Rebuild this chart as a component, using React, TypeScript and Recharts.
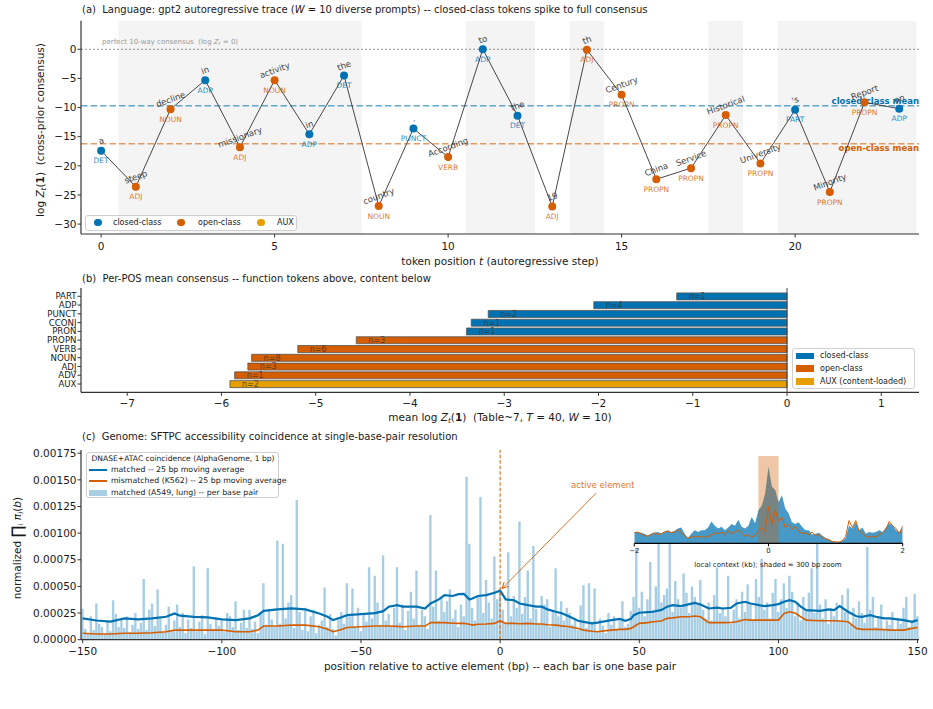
import React from 'react'
import {
  ComposedChart,
  BarChart,
  LineChart,
  Line,
  Bar,
  Area,
  XAxis,
  YAxis,
  ReferenceLine,
  ReferenceArea,
  LabelList,
  Cell,
} from 'recharts'

// ---------- panel (a): gpt2 autoregressive trace ----------
const TOKENS = ['a', 'steep', 'decline', 'in', 'missionary', 'activity', 'in', 'the', 'country', '.', 'According', 'to', 'the', '19', 'th', 'Century', 'China', 'Service', 'Historical', 'University', "'s", 'Minority', 'Report', 'on']
const TOKEN_POS = ['DET', 'ADJ', 'NOUN', 'ADP', 'ADJ', 'NOUN', 'ADP', 'DET', 'NOUN', 'PUNCT', 'VERB', 'ADP', 'DET', 'ADJ', 'ADJ', 'PROPN', 'PROPN', 'PROPN', 'PROPN', 'PROPN', 'PART', 'PROPN', 'PROPN', 'ADP']
const TOKEN_LOGZ = [-17.4, -23.6, -10.3, -5.3, -16.8, -5.3, -14.6, -4.5, -26.9, -13.6, -18.5, 0, -11.4, -27.0, -0.1, -7.8, -22.3, -20.4, -11.3, -19.6, -10.4, -24.5, -9.1, -10.2]
const CLOSED_POS = ['DET', 'ADP', 'PUNCT', 'PART', 'PRON', 'CCONJ']
const PROMPT_SPANS = [[0.5, 7.5], [10.5, 12.5], [13.5, 14.5], [17.5, 18.5], [19.5, 23.5]]
const CLOSED_MEAN = -9.7
const OPEN_MEAN = -16.2
const A_TICKS_X = [0, 5, 10, 15, 20]
const A_TICKS_Y = [-30, -25, -20, -15, -10, -5, 0]

// ---------- panel (b): per-POS mean ----------
const POS_ROWS = ['PART', 'ADP', 'PUNCT', 'CCONJ', 'PRON', 'PROPN', 'VERB', 'NOUN', 'ADJ', 'ADV', 'AUX']
const POS_MEAN = [-1.17, -2.05, -3.17, -3.35, -3.4, -4.57, -5.19, -5.68, -5.72, -5.86, -5.91]
const POS_COUNT = [1, 4, 2, 1, 1, 3, 6, 8, 3, 1, 2]
const B_TICKS_X = [-7, -6, -5, -4, -3, -2, -1, 0, 1]

// ---------- panel (c): SFTPC per-bp coincidence (units of 1e-5) ----------
const BP_START = -150
const MATCHED_BP = [
  29, 10, 6, 22, 9, 34, 15, 12, 5, 18,
  8, 37, 24, 12, 20, 11, 22, 7, 14, 25,
  10, 16, 57, 9, 28, 34, 13, 47, 20, 7,
  14, 31, 9, 18, 33, 12, 25, 6, 19, 11,
  69, 8, 17, 23, 5, 67, 15, 10, 21, 13,
  18, 7, 25, 22, 12, 36, 9, 16, 28, 11,
  28, 10, 17, 6, 24, 53, 14, 29, 19, 12,
  93, 15, 90, 20, 35, 42, 11, 131, 26, 9,
  30, 8, 22, 28, 6, 14, 18, 49, 12, 24,
  10, 4, 19, 26, 15, 53, 22, 48, 12, 30,
  8, 25, 17, 68, 20, 60, 35, 14, 79, 18,
  24, 12, 30, 68, 16, 33, 9, 27, 45, 20,
  65, 14, 28, 22, 10, 117, 31, 65, 18, 40,
  26, 36, 47, 20, 28, 12, 33, 22, 153, 90,
  30, 18, 42, 134, 25, 56, 35, 20, 78, 38,
  45, 28, 16, 82, 22, 41, 30, 111, 24, 40,
  65, 20, 88, 29, 15, 41, 33, 38, 12, 26,
  67, 22, 36, 18, 30, 25, 14, 20, 9, 32,
  51, 11, 53, 17, 48, 8, 20, 13, 6, 25,
  14, 22, 9, 18, 36, 12, 15, 27, 40, 86,
  30, 45, 22, 38, 73, 28, 50, 100, 35, 42,
  48, 134, 26, 55, 38, 30, 62, 44, 25, 50,
  40, 33, 56, 28, 20, 35, 18, 42, 68, 25,
  30, 22, 60, 15, 28, 38, 20, 45, 26, 52,
  33, 18, 57, 40, 76, 28, 35, 20, 44, 57,
  26, 38, 53, 30, 60, 45, 22, 35, 18, 40,
  28, 44, 67, 25, 120, 33, 20, 38, 15, 30,
  22, 35, 18, 42, 26, 48, 14, 30, 20, 36,
  25, 16, 87, 28, 40, 12, 22, 33, 10, 18,
  14, 26, 9, 20, 15, 30, 40, 12, 18, 43,
  22,
]
const AVG_BP = [-150, -145, -140, -135, -130, -125, -120, -117, -115, -110, -105, -100, -95, -90, -87, -85, -80, -75, -70, -65, -62, -60, -57, -55, -50, -45, -42, -40, -37, -35, -30, -27, -25, -22, -20, -17, -15, -13, -11, -10, -8, -5, -2, 0, 2, 5, 7, 10, 13, 15, 17, 20, 22, 25, 28, 30, 33, 35, 38, 40, 43, 45, 47, 48, 50, 53, 55, 58, 60, 62, 65, 68, 70, 72, 75, 78, 80, 83, 85, 88, 90, 93, 95, 98, 100, 102, 104, 106, 108, 110, 115, 118, 120, 122, 125, 128, 130, 133, 135, 138, 140, 145, 148, 150]
const MATCHED_AVG = [
  20, 18, 17, 20, 19, 20, 21.5, 24.6, 22.5, 21.5,
  21, 19, 18.4, 20, 23, 27, 28.4, 29.3, 28.4, 24.6,
  21.5, 18.4, 21, 23, 24, 25, 26.8, 31, 32.4, 31,
  31, 29.3, 34, 37.8, 41.8, 41, 42.7, 43, 37.8, 38.7,
  41, 41.8, 44, 46, 37.8, 37, 34, 32.4, 31, 31,
  28.4, 26.2, 25, 21.5, 17.8, 16.8, 15.3, 16, 17.5, 18.4,
  19.5, 17.8, 19.5, 23, 25.3, 25.8, 26.2, 28, 31, 32.4,
  31.5, 33.4, 34.6, 33, 29.3, 30, 29.3, 30, 34, 35.6,
  34, 32.5, 31.5, 32.5, 33.4, 35.6, 37.1, 35.6, 31, 27.8,
  27.1, 28.4, 27.8, 31.5, 26.2, 22, 21.5, 23, 21.5, 20,
  20, 18.4, 16.8, 18.4,
]
const MISMATCHED_AVG = [
  6, 5.3, 5.3, 6, 6, 6.5, 7.5, 9, 9, 9,
  9, 9, 7.5, 7.5, 9, 12.8, 12.8, 13.7, 13.7, 12.2,
  9.7, 7.5, 9.5, 11.5, 12.2, 12.8, 12.8, 12.8, 12.5, 12.2,
  12.8, 12.8, 16, 16, 16, 15.5, 15.3, 15.3, 14.5, 13.7,
  14.5, 14.7, 15.3, 17.8, 15.3, 15.3, 15, 15.3, 14.7, 14.7,
  14, 13.7, 13, 12.2, 10.6, 9, 8, 7.5, 8.5, 9,
  9.7, 9.7, 10.6, 12.2, 15.3, 16, 16.8, 17.5, 20, 20.5,
  21.5, 21.5, 22.2, 21.5, 16, 16, 16, 16.2, 16.8, 19,
  18.4, 18.4, 18.4, 18.4, 18.4, 24.6, 26.2, 25, 21.5, 18.4,
  17.8, 17.8, 17.8, 17.5, 16.8, 10.6, 9.7, 9.7, 9.7, 9.5,
  9, 9, 10.6, 11.5,
]
const UNIT = 1e-5
const C_TICKS_X = [-150, -100, -50, 0, 50, 100, 150]
const C_TICKS_Y = [0, 0.00025, 0.0005, 0.00075, 0.001, 0.00125, 0.0015, 0.00175]

// inset: +-2 kb local context, sampled every 50 bp (relative units)
const INSET_STEP_KB = 0.05
const INSET_MATCHED = [
  0.13, 0.13, 0.12, 0.11, 0.09, 0.11, 0.12, 0.13, 0.11, 0.13,
  0.15, 0.13, 0.14, 0.17, 0.18, 0.11, 0.06, 0.11, 0.15, 0.13,
  0.15, 0.15, 0.18, 0.25, 0.2, 0.17, 0.19, 0.15, 0.18, 0.22,
  0.2, 0.27, 0.19, 0.17, 0.2, 0.3, 0.23, 0.38, 0.43, 0.57,
  0.88, 0.65, 0.61, 0.47, 0.55, 0.4, 0.34, 0.24, 0.22, 0.24,
  0.19, 0.15, 0.15, 0.1, 0.11, 0.12, 0.09, 0.06, 0.05, 0.02,
  0.01, 0.02, 0.03, 0.06, 0.2, 0.17, 0.24, 0.15, 0.18, 0.11,
  0.13, 0.12, 0.13, 0.15, 0.13, 0.18, 0.23, 0.2, 0.15, 0.13,
  0.18,
]
const INSET_MISMATCHED = [
  0.12, 0.13, 0.11, 0.09, 0.08, 0.1, 0.12, 0.1, 0.11, 0.13,
  0.14, 0.12, 0.13, 0.16, 0.12, 0.09, 0.06, 0.07, 0.08, 0.07,
  0.08, 0.07, 0.08, 0.09, 0.12, 0.11, 0.13, 0.1, 0.14, 0.11,
  0.13, 0.15, 0.12, 0.08, 0.1, 0.07, 0.09, 0.14, 0.18, 0.13,
  0.42, 0.22, 0.38, 0.25, 0.3, 0.18, 0.22, 0.16, 0.19, 0.14,
  0.11, 0.12, 0.1, 0.13, 0.09, 0.1, 0.07, 0.05, 0.04, 0.02,
  0.02, 0.01, 0.03, 0.08, 0.26, 0.18, 0.26, 0.14, 0.12, 0.08,
  0.07, 0.08, 0.07, 0.1, 0.12, 0.16, 0.25, 0.2, 0.17, 0.11,
  0.2,
]
const ZOOM_WINDOW_KB = [-0.15, 0.15]

const FONT = '"DejaVu Sans", Verdana, sans-serif'
const INK = '#1a1a1a'
const SPINE = '#333'
const BLUE = '#0072B2'
const ORANGE = '#D55E00'
const GOLD = '#E69F00'
const BAR_BLUE = '#a8cee4'

const minus = (v: number) => (v < 0 ? `\u2212${Math.abs(v)}` : `${v}`)
const classOf = (pos: string) => (CLOSED_POS.includes(pos) ? 'closed' : pos === 'AUX' ? 'aux' : 'open')
const colorOf = (cls: string) => (cls === 'closed' ? BLUE : cls === 'aux' ? GOLD : ORANGE)

const tokenData = TOKENS.map((word, t) => ({ t, word, pos: TOKEN_POS[t], logz: TOKEN_LOGZ[t], cls: classOf(TOKEN_POS[t]) }))
const posData = POS_ROWS.map((pos, i) => ({ pos, mean: POS_MEAN[i], label: `n=${POS_COUNT[i]}`, cls: classOf(pos) }))
const barData = MATCHED_BP.map((v, i) => ({ bp: BP_START + i, v: v * UNIT }))
const avgData = AVG_BP.map((bp, i) => ({ bp, matched: MATCHED_AVG[i] * UNIT, mismatched: MISMATCHED_AVG[i] * UNIT }))
const insetData = INSET_MATCHED.map((m, i) => ({ kb: -2 + i * INSET_STEP_KB, matched: m, mismatched: INSET_MISMATCHED[i] }))

const SUB: React.CSSProperties = { fontSize: '0.7em', verticalAlign: '-0.25em' }
const tickStyle = { fontSize: 10.5, fill: INK, fontFamily: FONT }

function Txt({ x, y, size = 10, anchor = 'start', rotate = false, color = INK, bold = false, children }: any) {
  const tx = anchor === 'middle' ? '-50%' : anchor === 'end' ? '-100%' : '0'
  return (
    <div
      style={{
        position: 'absolute',
        left: x,
        top: y,
        transform: rotate ? 'translate(-50%,-50%) rotate(-90deg)' : `translate(${tx},-50%)`,
        fontSize: size,
        lineHeight: 1,
        whiteSpace: 'pre',
        color,
        fontWeight: bold ? 'bold' : 'normal',
      }}
    >
      {children}
    </div>
  )
}

function TokenDot(props: any) {
  const { cx, cy, payload } = props
  if (cx == null || cy == null) return null
  const c = colorOf(payload.cls)
  return (
    <g>
      <circle cx={cx} cy={cy} r={4} fill={c} />
      <text transform={`translate(${cx},${cy - 10}) rotate(-20)`} textAnchor="middle" dy="0.35em" fontSize={8.5} fill="#444" fontFamily={FONT}>
        {payload.word}
      </text>
      <text x={cx} y={cy + 10} dy="0.35em" textAnchor="middle" fontSize={7.5} fill={c} fillOpacity={0.85} fontFamily={FONT}>
        {payload.pos}
      </text>
    </g>
  )
}

function PanelA() {
  return (
    <LineChart width={933} height={270} data={tokenData} margin={{ top: 20.7, right: 14, bottom: 6, left: 41 }}>
      {PROMPT_SPANS.map(([a, b]) => (
        <ReferenceArea key={a} x1={a} x2={b} fill="#000" fillOpacity={0.045} stroke="none" ifOverflow="visible" />
      ))}
      <XAxis
        type="number"
        dataKey="t"
        domain={[-0.58, 23.57]}
        allowDataOverflow
        ticks={A_TICKS_X}
        height={30}
        tick={tickStyle}
        tickSize={3.5}
        tickMargin={5}
        tickLine={{ stroke: SPINE }}
        axisLine={{ stroke: SPINE, strokeWidth: 1.2 }}
      />
      <YAxis
        type="number"
        domain={[-31.7, 4.9]}
        allowDataOverflow
        ticks={A_TICKS_Y}
        width={40}
        tickFormatter={minus}
        tick={tickStyle}
        tickSize={3.5}
        tickMargin={1}
        tickLine={{ stroke: SPINE }}
        axisLine={{ stroke: SPINE, strokeWidth: 1.2 }}
      />
      <ReferenceLine
        y={0}
        stroke="#777"
        strokeWidth={0.8}
        strokeDasharray="2 2"
        label={(p: any) => (
          <text x={p.viewBox.x + 21} y={p.viewBox.y - 8} dy="0.35em" fontSize={7} fill="#999" fontFamily={FONT} style={{ whiteSpace: 'pre' }}>
            <tspan>{'perfect 10-way consensus  (log '}</tspan>
            <tspan fontStyle="italic">Z</tspan>
            <tspan fontStyle="italic" fontSize={5} dy={1.5}>t</tspan>
            <tspan dy={-1.5}>{' = 0)'}</tspan>
          </text>
        )}
      />
      <ReferenceLine
        y={CLOSED_MEAN}
        stroke={BLUE}
        strokeOpacity={0.6}
        strokeWidth={1.5}
        strokeDasharray="6.5 3"
        label={(p: any) => (
          <text x={p.viewBox.x + p.viewBox.width} y={p.viewBox.y - 1.5} textAnchor="end" fontSize={8.5} fontWeight="bold" fill={BLUE} fontFamily={FONT}>
            closed-class mean
          </text>
        )}
      />
      <ReferenceLine
        y={OPEN_MEAN}
        stroke={ORANGE}
        strokeOpacity={0.6}
        strokeWidth={1.5}
        strokeDasharray="6.5 3"
        label={(p: any) => (
          <text x={p.viewBox.x + p.viewBox.width} y={p.viewBox.y + 7.5} textAnchor="end" fontSize={8.5} fontWeight="bold" fill={ORANGE} fontFamily={FONT}>
            open-class mean
          </text>
        )}
      />
      <Line
        type="linear"
        dataKey="logz"
        stroke="#333"
        strokeWidth={0.9}
        dot={(p: any) => <TokenDot key={`tok-${p.index}`} {...p} />}
        activeDot={false}
        isAnimationActive={false}
      />
    </LineChart>
  )
}

function PanelB() {
  return (
    <BarChart layout="vertical" width={933} height={160} data={posData} margin={{ top: 18, right: 14, bottom: 7.7, left: 31 }}>
      <XAxis
        type="number"
        domain={[-7.49, 1.4]}
        allowDataOverflow
        ticks={B_TICKS_X}
        height={30}
        tickFormatter={minus}
        tick={tickStyle}
        tickSize={3.5}
        tickMargin={4}
        tickLine={{ stroke: SPINE }}
        axisLine={{ stroke: SPINE, strokeWidth: 1.2 }}
      />
      <YAxis
        type="category"
        dataKey="pos"
        width={50}
        padding={{ top: 3.9, bottom: 3.9 }}
        interval={0}
        tick={{ fontSize: 8.6, fill: INK, fontFamily: FONT }}
        tickSize={3.5}
        tickMargin={1}
        tickLine={{ stroke: SPINE }}
        axisLine={{ stroke: SPINE, strokeWidth: 1.2 }}
      />
      <ReferenceLine x={0} stroke="#444" strokeWidth={1} />
      <Bar dataKey="mean" barSize={7} stroke="#555" strokeWidth={0.8} isAnimationActive={false}>
        {posData.map((d) => (
          <Cell key={d.pos} fill={colorOf(d.cls)} />
        ))}
        <LabelList
          dataKey="label"
          content={(p: any) => {
            const vb = p.viewBox ?? p
            const left = Math.min(vb.x, vb.x + vb.width)
            return (
              <text x={left + 12} y={vb.y + vb.height / 2} dy="0.35em" fontSize={8} fill="#333" fillOpacity={0.8} fontFamily={FONT}>
                {p.value}
              </text>
            )
          }}
        />
      </Bar>
    </BarChart>
  )
}

function PanelC() {
  return (
    <ComposedChart width={933} height={279} data={barData} margin={{ top: 20, right: 14, bottom: 39.3, left: 21 }}>
      <defs>
        <marker id="arrowHead" markerWidth="8" markerHeight="8" refX="7" refY="4" orient="auto" markerUnits="userSpaceOnUse">
          <path d="M1,1 L7,4 L1,7" fill="none" stroke={ORANGE} strokeWidth={1} />
        </marker>
      </defs>
      <XAxis
        type="number"
        dataKey="bp"
        domain={[-150.6, 150.5]}
        allowDataOverflow
        ticks={C_TICKS_X}
        height={30}
        tickFormatter={minus}
        tick={tickStyle}
        tickSize={3.5}
        tickMargin={4.3}
        tickLine={{ stroke: SPINE }}
        axisLine={{ stroke: SPINE, strokeWidth: 1.2 }}
      />
      <YAxis
        type="number"
        domain={[0, 0.00178]}
        allowDataOverflow
        ticks={C_TICKS_Y}
        width={60}
        tickFormatter={(v: number) => v.toFixed(5)}
        tick={tickStyle}
        tickSize={3.5}
        tickMargin={1}
        tickLine={{ stroke: SPINE }}
        axisLine={{ stroke: SPINE, strokeWidth: 1.2 }}
      />
      <Bar dataKey="v" fill={BAR_BLUE} barSize={2.4} isAnimationActive={false} />
      <Line data={avgData} type="linear" dataKey="mismatched" stroke={ORANGE} strokeWidth={1.6} dot={false} activeDot={false} isAnimationActive={false} />
      <Line data={avgData} type="linear" dataKey="matched" stroke={BLUE} strokeWidth={2.2} dot={false} activeDot={false} isAnimationActive={false} />
      <ReferenceLine x={0} stroke={ORANGE} strokeOpacity={0.85} strokeWidth={1.2} strokeDasharray="3.5 2" />
      <ReferenceLine
        segment={[
          { x: 34.5, y: 0.001376 },
          { x: 0.7, y: 0.00048 },
        ]}
        ifOverflow="visible"
        shape={(p: any) => (
          <line x1={p.x1} y1={p.y1} x2={p.x2} y2={p.y2} stroke={ORANGE} strokeOpacity={0.85} strokeWidth={1} markerEnd="url(#arrowHead)" />
        )}
      />
    </ComposedChart>
  )
}

function Inset() {
  return (
    <ComposedChart width={300} height={120} data={insetData} margin={{ top: 6, right: 17.3, bottom: 6.7, left: 14.3 }}>
      <XAxis
        type="number"
        dataKey="kb"
        domain={[-2, 2]}
        allowDataOverflow
        ticks={[-2, 0, 2]}
        height={20}
        tickFormatter={minus}
        tick={{ fontSize: 7, fill: INK, fontFamily: FONT }}
        tickSize={3}
        tickMargin={1.5}
        tickLine={{ stroke: '#000' }}
        axisLine={{ stroke: '#000', strokeWidth: 1.2 }}
      />
      <YAxis type="number" domain={[0, 1]} allowDataOverflow width={0} tick={false} tickLine={false} axisLine={{ stroke: '#000', strokeWidth: 1.2 }} />
      <Area type="linear" dataKey="matched" stroke="none" fill={BLUE} fillOpacity={0.72} dot={false} activeDot={false} isAnimationActive={false} />
      <Line type="linear" dataKey="mismatched" stroke={ORANGE} strokeWidth={1} dot={false} activeDot={false} isAnimationActive={false} />
      <ReferenceArea x1={ZOOM_WINDOW_KB[0]} x2={ZOOM_WINDOW_KB[1]} y1={0} y2={1} fill={ORANGE} fillOpacity={0.35} stroke="none" />
    </ComposedChart>
  )
}

const legendBox: React.CSSProperties = {
  position: 'absolute',
  border: '1px solid #cfcfcf',
  borderRadius: 3,
  background: 'rgba(255,255,255,0.85)',
  boxSizing: 'border-box',
}

function Dot({ x, color }: { x: number; color: string }) {
  return <div style={{ position: 'absolute', left: x - 3.7, top: 7.3 - 3.7 - 1, width: 7.4, height: 7.4, borderRadius: '50%', background: color }} />
}

export default function App() {
  return (
    <div style={{ position: 'relative', width: 933, height: 709, background: '#fff', fontFamily: FONT, color: INK, overflow: 'hidden' }}>
      <style>{'body{margin:0}'}</style>

      {/* (a) */}
      <div style={{ position: 'absolute', left: 0, top: 0 }}>
        <PanelA />
      </div>
      <Txt x={82} y={10} size={10}>
        (a)  Language: gpt2 autoregressive trace (<i>W</i> = 10 diverse prompts) -- closed-class tokens spike to full consensus
      </Txt>
      <Txt x={41} y={130} size={10.5} rotate>
        log <i>Z</i>
        <span style={SUB}>
          <i>t</i>
        </span>
        (<b>1</b>)  (cross-prior consensus)
      </Txt>
      <Txt x={500} y={261} size={10.5} anchor="middle">
        token position <i>t</i> (autoregressive step)
      </Txt>
      <div style={{ ...legendBox, left: 85, top: 215, width: 212, height: 16 }}>
        <Dot x={12} color={BLUE} />
        <Txt x={27} y={7} size={8}>closed-class</Txt>
        <Dot x={95} color={ORANGE} />
        <Txt x={112} y={7} size={8}>open-class</Txt>
        <Dot x={175} color={GOLD} />
        <Txt x={191} y={7} size={8}>AUX</Txt>
      </div>

      {/* (b) */}
      <div style={{ position: 'absolute', left: 0, top: 270 }}>
        <PanelB />
      </div>
      <Txt x={82} y={279} size={10}>
        (b)  Per-POS mean consensus -- function tokens above, content below
      </Txt>
      <Txt x={500} y={418} size={10.5} anchor="middle">
        mean log <i>Z</i>
        <span style={SUB}>
          <i>t</i>
        </span>
        (<b>1</b>)  (Table~7, <i>T</i> = 40, <i>W</i> = 10)
      </Txt>
      <div style={{ ...legendBox, left: 792, top: 348, width: 123, height: 41 }}>
        {[
          ['closed-class', BLUE],
          ['open-class', ORANGE],
          ['AUX (content-loaded)', GOLD],
        ].map(([name, c], i) => (
          <React.Fragment key={name}>
            <div style={{ position: 'absolute', left: 2.5, top: 3.6 + i * 12.8, width: 18.4, height: 6.7, background: c }} />
            <Txt x={27} y={7 + i * 12.8} size={8}>
              {name}
            </Txt>
          </React.Fragment>
        ))}
      </div>

      {/* (c) */}
      <div style={{ position: 'absolute', left: 0, top: 430 }}>
        <PanelC />
      </div>
      <Txt x={82} y={437} size={10}>
        (c)  Genome: SFTPC accessibility coincidence at single-base-pair resolution
      </Txt>
      <Txt x={18} y={548} size={10.5} rotate>
        normalized <span style={{ fontSize: '1.5em', verticalAlign: '-0.12em' }}>∏</span>
        <span style={SUB}>i</span> <i>π</i>
        <span style={SUB}>
          <i>i</i>
        </span>
        (<i>b</i>)
      </Txt>
      <Txt x={500} y={666} size={10.5} anchor="middle">
        position relative to active element (bp) -- each bar is one base pair
      </Txt>
      <Txt x={571} y={485} size={8.5} color="#e0782f">
        active element
      </Txt>
      <div style={{ ...legendBox, left: 86, top: 452, width: 193, height: 46 }}>
        <Txt x={96} y={5.5} size={7.6} anchor="middle">
          DNASE+ATAC coincidence (AlphaGenome, 1 bp)
        </Txt>
        <div style={{ position: 'absolute', left: 2, top: 15.5, width: 18, height: 2.2, background: BLUE }} />
        <Txt x={24} y={16.5} size={7.8}>matched -- 25 bp moving average</Txt>
        <div style={{ position: 'absolute', left: 2, top: 27.2, width: 18, height: 1.8, background: ORANGE }} />
        <Txt x={24} y={28} size={7.8}>mismatched (K562) -- 25 bp moving average</Txt>
        <div style={{ position: 'absolute', left: 2, top: 36.5, width: 18, height: 6.5, background: BAR_BLUE }} />
        <Txt x={24} y={39.7} size={7.8}>matched (A549, lung) -- per base pair</Txt>
      </div>

      {/* inset */}
      <div style={{ position: 'absolute', left: 634.3, top: 456, width: 268.4, height: 87.3, background: '#fff' }} />
      <div style={{ position: 'absolute', left: 620, top: 450 }}>
        <Inset />
      </div>
      <Txt x={768} y={565} size={7} anchor="middle">
        local context (kb); shaded = 300 bp zoom
      </Txt>
    </div>
  )
}
